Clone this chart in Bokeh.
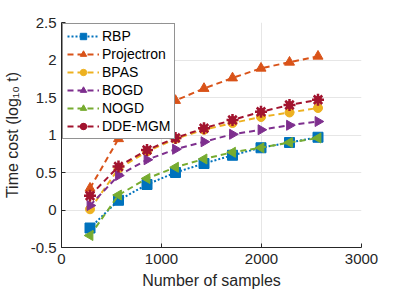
import math
from bokeh.plotting import figure
from bokeh.embed import file_html
from bokeh.resources import INLINE
from bokeh.models import Range1d, FixedTicker

samples = [285, 570, 855, 1140, 1425, 1710, 1995, 2280, 2565]
rbp = [-0.24, 0.13, 0.34, 0.50, 0.62, 0.73, 0.83, 0.90, 0.97]
projectron = [0.29, 0.95, 1.23, 1.46, 1.62, 1.76, 1.89, 1.97, 2.05]
bpas = [0.01, 0.55, 0.78, 0.95, 1.07, 1.16, 1.24, 1.30, 1.36]
bogd = [0.06, 0.46, 0.67, 0.81, 0.91, 1.01, 1.07, 1.13, 1.18]
nogd = [-0.34, 0.20, 0.42, 0.57, 0.68, 0.77, 0.83, 0.90, 0.96]
ddemgm = [0.19, 0.58, 0.80, 0.96, 1.09, 1.20, 1.31, 1.40, 1.47]

x_ticks = [0, 1000, 2000, 3000]
y_ticks = [-0.5, 0, 0.5, 1, 1.5, 2, 2.5]

FONT = "Liberation Sans"
p = figure(width=391, height=291, output_backend="svg", toolbar_location=None,
           x_range=Range1d(0, 3000), y_range=Range1d(-0.5, 2.5),
           min_border_left=61, min_border_right=30, min_border_top=22, min_border_bottom=38)
p.outline_line_color = None

series = [
    ("RBP", rbp, "#0072BD", "dotted", "square", 0),
    ("Projectron", projectron, "#D95319", "dashed", "triangle", 0),
    ("BPAS", bpas, "#EDB120", "dashed", "circle", 0),
    ("BOGD", bogd, "#7E2F8E", "dashed", "triangle", -math.pi / 2),
    ("NOGD", nogd, "#77AC30", "dashed", "triangle", math.pi / 2),
    ("DDE-MGM", ddemgm, "#A2142F", "dashed", "asterisk", 0),
]
for name, ys, col, dash, mk, ang in series:
    ld = "2 2" if dash == "dotted" else "6 4"
    p.line(samples, ys, line_color=col, line_width=2, line_dash=ld, legend_label=name)
    if mk == "asterisk":
        p.scatter(samples, ys, marker="circle", size=7, fill_color=col, line_color=col, legend_label=name)
        p.scatter(samples, ys, marker="asterisk", size=12, line_color=col, line_width=2.5, legend_label=name)
    else:
        sz = 9 if mk == "circle" else 10
        p.scatter(samples, ys, marker=mk, size=sz, angle=ang, fill_color=col, line_color=col, legend_label=name)

for ax in (p.xaxis[0], p.yaxis[0]):
    ax.axis_line_color = "#262626"
    ax.major_tick_line_color = "#262626"
    ax.major_tick_in = 4
    ax.major_tick_out = 0
    ax.minor_tick_line_color = None
    ax.major_label_text_font = FONT
    ax.major_label_text_font_size = "15px"
    ax.major_label_text_color = "#262626"
    ax.axis_label_text_font = FONT
    ax.axis_label_text_font_size = "16px"
    ax.axis_label_text_font_style = "normal"
    ax.axis_label_text_color = "#262626"
p.xaxis.ticker = FixedTicker(ticks=x_ticks)
p.yaxis.ticker = FixedTicker(ticks=y_ticks)
p.xaxis.major_label_overrides = {t: str(t) for t in x_ticks}
p.yaxis.major_label_overrides = {-0.5: "-0.5", 0: "0", 0.5: "0.5", 1: "1", 1.5: "1.5", 2: "2", 2.5: "2.5"}
p.xaxis.axis_label = "Number of samples"
p.yaxis.axis_label = "Time cost (log\u2081\u2080 t)"
p.xaxis.axis_label_standoff = 5
p.yaxis.axis_label_standoff = 7
p.xaxis.major_label_standoff = 6
p.yaxis.major_label_standoff = 5

p.xgrid.grid_line_color = "#e6e6e6"
p.ygrid.grid_line_color = "#e6e6e6"
p.xgrid.ticker = FixedTicker(ticks=x_ticks)
p.ygrid.ticker = FixedTicker(ticks=y_ticks)

lg = p.legend[0]
lg.location = "top_left"
lg.margin = 1
lg.padding = 4
lg.spacing = 2
lg.glyph_width = 32
lg.glyph_height = 16
lg.label_height = 16
lg.label_standoff = 3
lg.label_text_font = FONT
lg.label_text_font_size = "14px"
lg.label_text_color = "#000000"
lg.border_line_color = "#262626"
lg.border_line_width = 1
lg.background_fill_alpha = 1

open("out.html", "w").write(file_html(p, INLINE))
